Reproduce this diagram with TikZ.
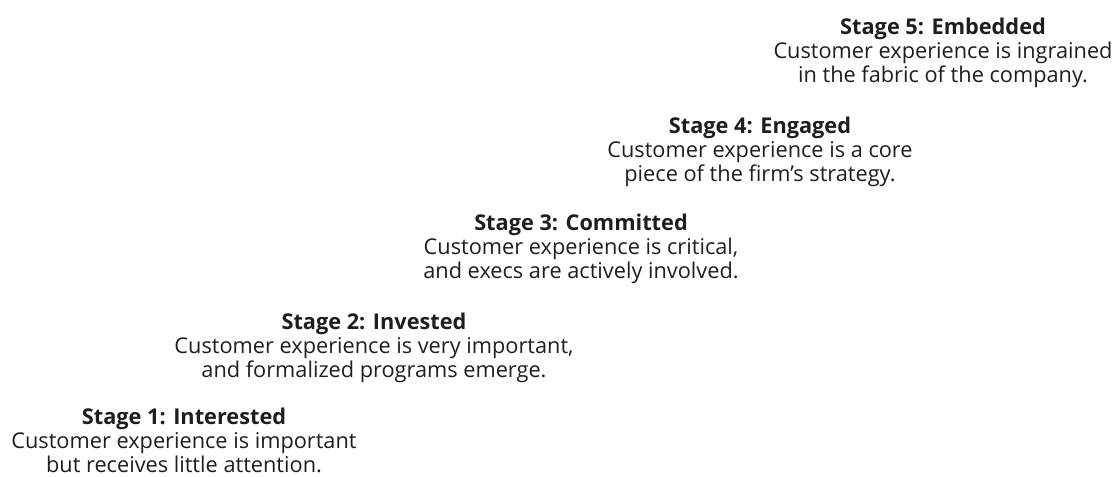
\documentclass[tikz,border=0pt]{standalone}
\usepackage{fontspec}
\setmainfont{Open Sans}
\usepackage{xcolor}
\usepackage{tikz}
\usetikzlibrary{positioning}
\definecolor{stagetext}{HTML}{1E1E1E}

\begin{document}
\begin{tikzpicture}[
  x=0.75pt, y=-0.75pt,
  every node/.style={font=\fontsize{16.3}{18}\selectfont, text=stagetext},
  stage/.style={align=center, inner sep=0pt}
]
\useasboundingbox (0,0) rectangle (1118,477);

\node[stage] (stage1) at (184,440) {{\bfseries Stage 1: Interested}\\Customer experience is important\\but receives little attention.};
\node[stage] (stage2) at (374,348) {{\bfseries Stage 2: Invested}\\Customer experience is very important,\\and formalized programs emerge.};
\node[stage] (stage3) at (581,249) {{\bfseries Stage 3: Committed}\\Customer experience is critical,\\and execs are actively involved.};
\node[stage] (stage4) at (760,152) {{\bfseries Stage 4: Engaged}\\Customer experience is a core\\piece of the firm's strategy.};
\node[stage] (stage5) at (943,53) {{\bfseries Stage 5: Embedded}\\Customer experience is ingrained\\in the fabric of the company.};
\end{tikzpicture}
\end{document}
